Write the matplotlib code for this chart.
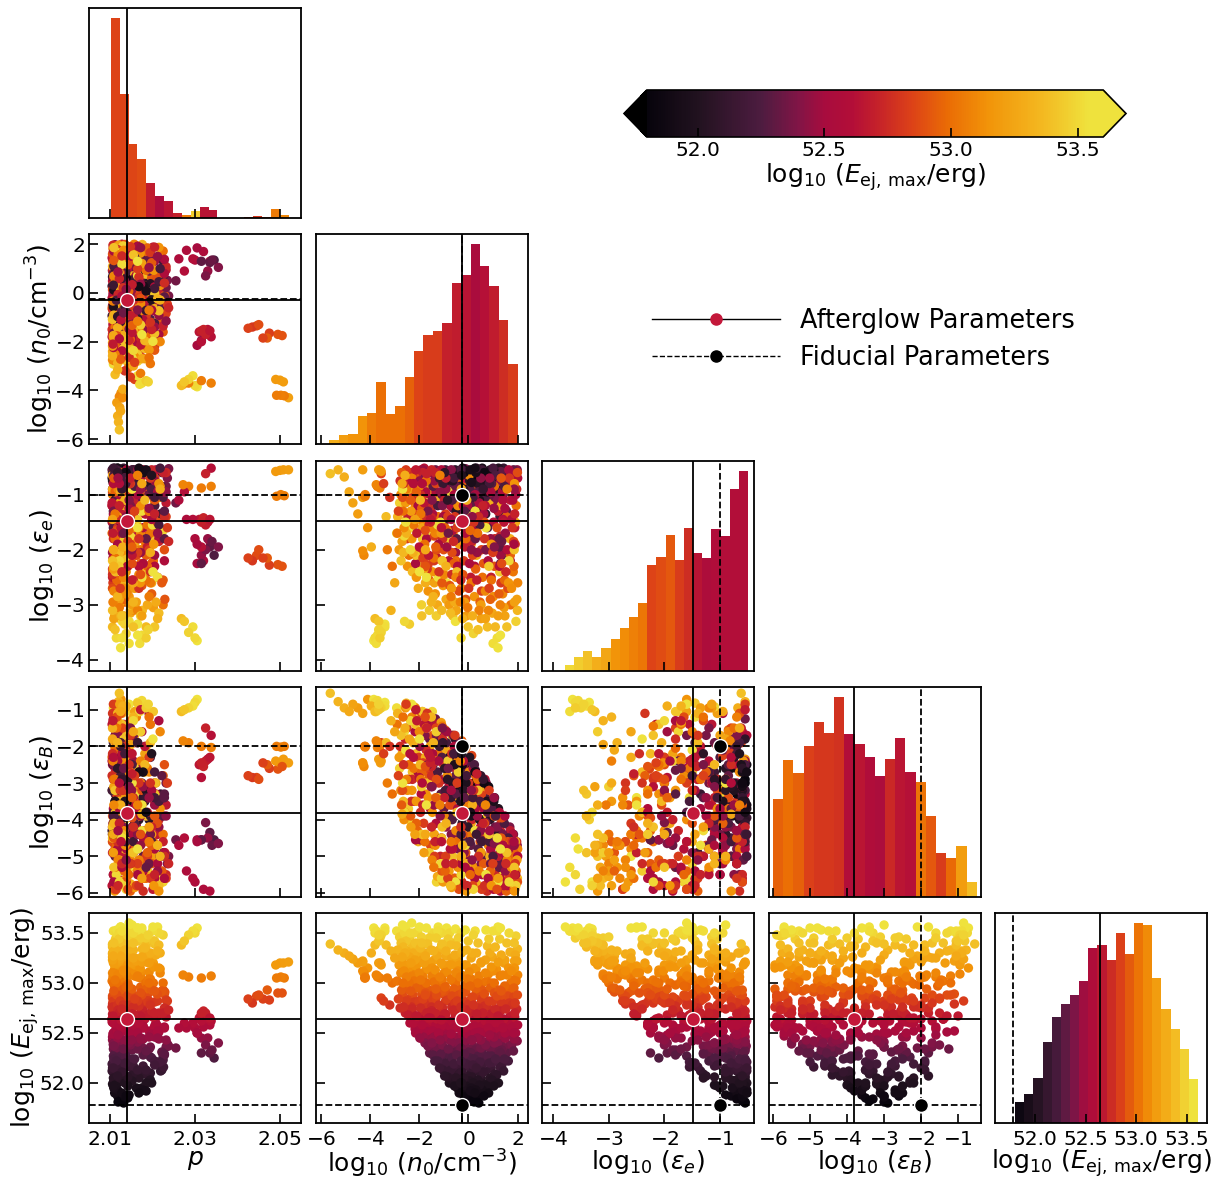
import numpy as np
import matplotlib
matplotlib.use("Agg")
import matplotlib.pyplot as plt
from matplotlib.colors import LinearSegmentedColormap, Normalize
from matplotlib.lines import Line2D
from matplotlib.cm import ScalarMappable

# samples, one line per n0 band
n0_samples = [
    1.98, 1.92, 2.0, 1.88, 1.96, 1.9, 1.99, 1.85, 1.94, 2.0, 1.87, 1.97, 1.91, 1.99, 1.86, 1.93,
    1.62, 1.55, 1.68, 1.5, 1.64, 1.58, 1.7, 1.52, 1.66, 1.6, 1.54, 1.72, 1.57, 1.63, 1.48, 1.69, 1.56, 1.65,
    1.22, 1.15, 1.28, 1.1, 1.25, 1.18, 1.3, 1.12, 1.26, 1.2, 1.08, 1.32, 1.16, 1.24, 1.05, 1.29, 1.14, 1.21, 1.33, 1.09, 1.27, 1.17,
    .82, .75, .88, .7, .85, .78, .9, .72, .86, .8, .68, .92, .76, .84, .65, .89, .74, .81, .93, .69, .87, .77, .83, .71,
    .42, .35, .48, .3, .45, .38, .5, .32, .46, .4, .28, .52, .36, .44, .25, .49, .34, .41, .53, .29, .47, .37, .43, .31, .51, .33, .39, .27,
    .02, -.05, .08, -.1, .05, -.02, .1, -.08, .06, 0, -.12, .12, -.04, .04, -.15, .09, -.06, .01, .13, -.11, .07, -.03, .03, -.09, .11, -.07, -.01, -.13,
    -.38, -.45, -.32, -.5, -.35, -.42, -.3, -.48, -.34, -.4, -.52, -.28, -.44, -.36, -.55, -.31, -.46, -.39, -.27, -.51, -.33, -.43, -.37, -.49, -.29, -.47, -.41, -.53,
    -.78, -.85, -.72, -.9, -.75, -.82, -.7, -.88, -.74, -.8, -.92, -.68, -.84, -.76, -.95, -.71, -.86, -.79, -.67, -.91, -.73, -.83, -.77, -.89,
    -1.18, -1.25, -1.12, -1.3, -1.15, -1.22, -1.1, -1.28, -1.14, -1.2, -1.32, -1.08, -1.24, -1.16, -1.35, -1.11, -1.26, -1.19, -1.07, -1.31, -1.13, -1.23,
    -1.58, -1.65, -1.52, -1.7, -1.55, -1.62, -1.5, -1.68, -1.54, -1.6, -1.72, -1.48, -1.64, -1.56, -1.75, -1.51, -1.66, -1.59, -1.47, -1.71,
    -1.98, -2.05, -1.92, -2.1, -1.95, -2.02, -1.9, -2.08, -1.94, -2.0, -2.12, -1.88, -2.04, -1.96, -2.15, -1.91, -2.06, -1.99,
    -2.38, -2.45, -2.32, -2.5, -2.35, -2.42, -2.3, -2.48, -2.34, -2.4, -2.52, -2.28, -2.44, -2.36, -2.55, -2.31,
    -2.78, -2.85, -2.72, -2.9, -2.75, -2.82, -2.7, -2.88, -2.74, -2.8, -2.92, -2.68,
    -5.62, -5.3, -5.05, -4.85, -4.7, -4.5, -4.3, -4.1, -3.95, -4.3, -4.25, -3.7, -3.65, -3.6, -3.75, -3.4, -3.55, -3.45, -3.2, -3.3, -3.1, -3.0, -3.15, -3.35, -2.6, -2.4, -1.9, 1.2, -0.3, 1.0, 1.3, 0.2,
    -1.45, -1.4, -1.35, -1.3, -1.85, -1.85, -1.65, -1.7, -1.75,
    -3.55, -3.58, -3.65, -4.2, -4.2, -4.22, -4.3,
    -1.6, -1.55, -1.5, -1.6, -1.5, -1.55, -2.0, -2.15, -1.95, -1.8, -1.7,
    1.75, 1.4, 1.35, 1.85, 1.3, .7, 1.25, 1.35, 1.05, 1.35, .9, 1.7, 1.3,
    -3.75, -3.7, -3.6, -3.7,
    -3.65, -3.55, -3.4, -3.8, -3.85, -3.8,
    -1.25, -1.1, -1.3, 1.4, .9, .5,
    # second pass, between the bands above
    1.83, 1.76, 1.86, 1.72, 1.8, 1.74, 1.88, 1.78, 1.84, 1.7, 1.82, 1.75, 1.87, 1.79,
    1.43, 1.36, 1.46, 1.32, 1.4, 1.34, 1.48, 1.38, 1.44, 1.3, 1.42, 1.35, 1.47, 1.39, 1.45, 1.33,
    1.03, .96, 1.06, .92, 1.0, .94, 1.08, .98, 1.04, .9, 1.02, .95, 1.07, .99, 1.05, .93, 1.01, .97,
    .63, .56, .66, .52, .6, .54, .68, .58, .64, .5, .62, .55, .67, .59, .65, .53, .61, .57, .69, .51,
    .23, .16, .26, .12, .2, .14, .28, .18, .24, .1, .22, .15, .27, .19, .25, .13, .21, .17, .29, .11, .24, .16,
    -.17, -.24, -.14, -.28, -.2, -.26, -.12, -.22, -.16, -.3, -.18, -.25, -.13, -.21, -.15, -.27, -.19, -.23, -.11, -.29, -.16, -.24,
    -.57, -.64, -.54, -.68, -.6, -.66, -.52, -.62, -.56, -.7, -.58, -.65, -.53, -.61, -.55, -.67, -.59, -.63, -.51, -.69, -.56, -.64,
    -.97, -1.04, -.94, -1.08, -1.0, -1.06, -.92, -1.02, -.96, -1.1, -.98, -1.05, -.93, -1.01, -.95, -1.07, -.99, -1.03, -.91, -1.09,
    -1.37, -1.44, -1.34, -1.48, -1.4, -1.46, -1.32, -1.42, -1.36, -1.5, -1.38, -1.45, -1.33, -1.41, -1.35, -1.47, -1.39, -1.43,
    -1.77, -1.84, -1.74, -1.88, -1.8, -1.86, -1.72, -1.82, -1.76, -1.9, -1.78, -1.85, -1.73, -1.81, -1.75, -1.87,
    -2.17, -2.24, -2.14, -2.28, -2.2, -2.26, -2.12, -2.22, -2.16, -2.3, -2.18, -2.25, -2.13, -2.21,
    -2.57, -2.64, -2.54, -2.68, -2.6, -2.66, -2.52, -2.62, -2.56, -2.7, -2.58, -2.65, -2.53, -2.61,
]
E_samples = [
    52.42, 52.5, 52.58, 52.66, 52.74, 52.8, 52.88, 52.95, 53.02, 53.08, 53.15, 53.22, 53.28, 53.34, 53.4, 53.47,
    52.22, 52.3, 52.38, 52.45, 52.52, 52.6, 52.67, 52.74, 52.8, 52.87, 52.94, 53.0, 53.08, 53.15, 53.23, 53.31, 53.4, 53.5,
    52.0, 52.08, 52.16, 52.24, 52.32, 52.4, 52.47, 52.54, 52.6, 52.67, 52.74, 52.8, 52.87, 52.93, 53.0, 53.07, 53.14, 53.21, 53.28, 53.36, 53.44, 53.52,
    51.9, 51.97, 52.05, 52.12, 52.2, 52.27, 52.34, 52.41, 52.48, 52.55, 52.62, 52.69, 52.76, 52.82, 52.89, 52.95, 53.02, 53.09, 53.16, 53.23, 53.3, 53.37, 53.44, 53.53,
    51.8, 51.84, 51.88, 51.93, 51.98, 52.03, 52.09, 52.15, 52.21, 52.27, 52.33, 52.39, 52.45, 52.51, 52.57, 52.63, 52.69, 52.75, 52.82, 52.88, 52.94, 53.0, 53.07, 53.14, 53.21, 53.3, 53.4, 53.52,
    51.82, 51.87, 51.92, 51.97, 52.02, 52.07, 52.13, 52.19, 52.25, 52.31, 52.37, 52.43, 52.49, 52.55, 52.61, 52.67, 52.73, 52.79, 52.85, 52.91, 52.97, 53.04, 53.11, 53.18, 53.25, 53.33, 53.42, 53.53,
    51.9, 51.95, 52.0, 52.05, 52.1, 52.16, 52.22, 52.28, 52.34, 52.4, 52.46, 52.52, 52.58, 52.64, 52.7, 52.76, 52.82, 52.88, 52.94, 53.0, 53.06, 53.12, 53.18, 53.24, 53.3, 53.37, 53.45, 53.54,
    52.0, 52.06, 52.13, 52.2, 52.27, 52.34, 52.41, 52.48, 52.55, 52.62, 52.69, 52.76, 52.83, 52.9, 52.97, 53.04, 53.11, 53.18, 53.25, 53.32, 53.38, 53.44, 53.5, 53.55,
    52.15, 52.22, 52.29, 52.36, 52.43, 52.5, 52.57, 52.64, 52.71, 52.78, 52.85, 52.92, 52.99, 53.06, 53.13, 53.2, 53.27, 53.33, 53.39, 53.45, 53.5, 53.56,
    52.3, 52.37, 52.44, 52.51, 52.58, 52.65, 52.72, 52.79, 52.86, 52.93, 53.0, 53.07, 53.14, 53.21, 53.27, 53.33, 53.39, 53.45, 53.5, 53.55,
    52.45, 52.52, 52.6, 52.67, 52.75, 52.82, 52.89, 52.96, 53.03, 53.1, 53.17, 53.23, 53.29, 53.35, 53.4, 53.46, 53.52, 53.56,
    52.6, 52.68, 52.76, 52.84, 52.92, 53.0, 53.07, 53.14, 53.2, 53.26, 53.32, 53.38, 53.44, 53.5, 53.56, 53.6,
    52.75, 52.84, 52.93, 53.02, 53.1, 53.18, 53.26, 53.33, 53.4, 53.46, 53.52, 53.58,
    53.39, 53.33, 53.3, 53.27, 53.24, 53.2, 53.22, 53.15, 53.3, 53.12, 53.1, 53.5, 53.48, 53.45, 53.52, 53.55, 52.85, 52.82, 52.78, 53.05, 53.0, 53.25, 53.32, 53.38, 53.5, 53.45, 53.4, 53.56, 53.5, 53.52, 53.55, 53.48,
    52.84, 52.8, 52.87, 52.88, 52.84, 52.93, 52.83, 52.9, 52.9,
    53.18, 53.2, 53.2, 53.05, 53.06, 53.05, 53.21,
    52.65, 52.7, 52.72, 52.68, 52.62, 52.65, 52.62, 52.5, 52.45, 52.62, 52.7,
    52.55, 52.6, 52.55, 52.5, 52.3, 52.38, 52.3, 52.25, 52.4, 52.33, 52.45, 52.56, 52.58,
    53.08, 53.06, 53.05, 53.07,
    53.42, 53.48, 53.52, 53.5, 53.55, 53.38,
    53.52, 53.5, 53.48, 52.55, 52.6, 52.35,
    # second pass
    52.32, 52.38, 52.44, 52.5, 52.56, 52.62, 52.7, 52.78, 52.86, 52.94, 53.03, 53.12, 53.22, 53.02,
    52.12, 52.18, 52.24, 52.3, 52.36, 52.42, 52.5, 52.56, 52.64, 52.72, 52.8, 52.88, 52.97, 53.08, 53.2, 52.92,
    51.97, 52.03, 52.09, 52.15, 52.21, 52.27, 52.33, 52.39, 52.46, 52.52, 52.6, 52.66, 52.74, 52.82, 52.9, 53.0, 53.12, 53.26,
    51.87, 51.93, 51.99, 52.05, 52.11, 52.17, 52.23, 52.29, 52.36, 52.43, 52.5, 52.57, 52.64, 52.7, 52.77, 52.84, 52.92, 53.0, 53.1, 53.2,
    51.81, 51.85, 51.9, 51.95, 52.0, 52.06, 52.12, 52.18, 52.24, 52.3, 52.36, 52.43, 52.5, 52.56, 52.63, 52.7, 52.78, 52.86, 52.94, 53.04, 53.15, 53.3,
    51.86, 51.9, 51.95, 52.0, 52.05, 52.11, 52.17, 52.23, 52.29, 52.35, 52.42, 52.48, 52.55, 52.61, 52.68, 52.75, 52.82, 52.9, 52.98, 53.08, 53.18, 53.32,
    51.97, 52.02, 52.07, 52.13, 52.19, 52.25, 52.31, 52.37, 52.43, 52.49, 52.55, 52.61, 52.67, 52.73, 52.8, 52.87, 52.94, 53.02, 53.1, 53.18, 53.28, 53.4,
    52.07, 52.13, 52.19, 52.26, 52.32, 52.38, 52.44, 52.5, 52.56, 52.63, 52.69, 52.75, 52.82, 52.89, 52.96, 53.03, 53.1, 53.18, 53.27, 53.38,
    52.22, 52.28, 52.34, 52.4, 52.46, 52.52, 52.58, 52.64, 52.7, 52.76, 52.82, 52.88, 52.94, 53.01, 53.08, 53.15, 53.23, 53.32,
    52.4, 52.46, 52.52, 52.58, 52.64, 52.7, 52.76, 52.82, 52.88, 52.94, 53.0, 53.06, 53.13, 53.2, 53.3, 53.42,
    52.54, 52.6, 52.67, 52.74, 52.81, 52.88, 52.95, 53.02, 53.09, 53.16, 53.23, 53.3, 53.38, 53.5,
    52.7, 52.76, 52.82, 52.88, 52.94, 53.0, 53.06, 53.12, 53.18, 53.24, 53.3, 53.36, 53.42, 53.5,
]
ee_samples = [
    -.55, -1.0, -.7, -1.6, -.9, -1.9, -.6, -2.3, -1.2, -2.6, -.8, -2.9, -1.5, -3.1, -2.0, -3.3,
    -.6, -1.3, -.8, -1.7, -.55, -2.0, -1.1, -2.4, -.7, -2.7, -1.4, -3.0, -.9, -2.6, -3.2, -1.8, -3.4, -2.2,
    -.52, -.9, -1.4, -.65, -1.8, -1.1, -2.1, -.75, -2.3, -1.3, -.6, -2.6, -1.6, -2.8, -.85, -3.0, -2.0, -3.2, -1.2, -3.4, -2.4, -3.6,
    -.6, -.95, -.55, -1.35, -.8, -1.6, -1.0, -2.0, -.7, -2.2, -1.2, -2.5, -.65, -2.7, -1.5, -2.9, -.9, -3.1, -1.9, -3.25, -1.1, -3.4, -2.3, -1.6,
    -.55, -.7, -.9, -.6, -1.1, -.8, -1.3, -.52, -1.55, -.95, -1.8, -.7, -2.05, -1.15, -2.3, -.6, -2.55, -1.4, -2.75, -.85, -2.95, -1.7, -3.1, -1.05, -3.25, -2.1, -3.45, -1.3,
    -.6, -.8, -.55, -1.05, -.75, -1.25, -.6, -1.5, -.9, -1.75, -.53, -2.0, -1.2, -2.25, -.7, -2.5, -1.45, -2.7, -.95, -2.9, -1.65, -3.05, -.65, -3.2, -1.9, -1.1, -3.4, -1.35,
    -.7, -1.0, -.6, -1.3, -.85, -1.55, -.55, -1.8, -1.1, -.7, -2.05, -.95, -2.3, -1.35, -.6, -2.55, -1.6, -2.75, -.8, -2.2, -2.95, -1.2, -1.9, -3.1, -.9, -2.4, -1.5, -3.3,
    -.75, -1.1, -.6, -1.45, -.9, -1.7, -.55, -1.95, -1.2, -2.2, -.7, -2.45, -1.4, -2.65, -.85, -2.85, -1.65, -3.0, -1.0, -2.3, -3.15, -1.85, -.95, -2.6,
    -.7, -1.2, -.6, -1.6, -.95, -1.9, -.55, -2.15, -1.1, -2.4, -.8, -2.6, -1.4, -.65, -2.8, -1.7, -3.0, -1.05, -2.2, -3.2, -1.5, -2.5,
    -.8, -1.3, -.6, -1.8, -1.0, -2.1, -.55, -2.35, -1.25, -2.55, -.75, -1.6, -2.75, -.9, -2.0, -2.95, -1.15, -3.1, -1.75, -2.5,
    -.75, -1.2, -.55, -1.7, -1.0, -2.0, -.65, -2.25, -1.35, -.85, -2.5, -1.6, -2.7, -1.1, -2.1, -3.0, -1.45, -2.4,
    -.8, -1.4, -.6, -1.8, -1.1, -2.1, -.7, -2.3, -1.3, -.9, -1.7, -2.4, -1.05, -2.0, -1.5, -1.6,
    -.75, -1.3, -.6, -1.7, -1.0, -2.0, -.8, -1.4, -2.2, -1.15, -1.7, -.9,
    -.62, -.55, -.68, -.95, -1.15, -1.35, -1.05, -1.6, -1.95, -2.02, -2.1, -3.55, -3.45, -3.6, -3.7, -3.35, -.62, -.8, -1.05, -2.0, -2.3, -2.6, -3.1, -1.4, -3.3, -3.35, -3.2, -3.78, -3.6, -3.7, -3.55, -3.52,
    -2.15, -2.2, -2.1, -2.0, -2.15, -2.15, -2.28, -2.27, -2.3,
    -.58, -.56, -.55, -1.03, -1.0, -1.02, -.55,
    -1.45, -1.5, -1.42, -1.55, -1.5, -1.45, -1.95, -2.25, -2.1, -.52, -.62,
    -1.45, -1.45, -1.8, -1.9, -2.25, -2.0, -1.95, -2.1, -1.95, -1.85, -1.8, -2.2, -1.85,
    -.82, -.85, -.88, -.85,
    -3.3, -3.5, -3.4, -3.6, -3.65, -3.25,
    -1.55, -1.6, -1.65, -1.1, -.95, -1.15,
    # second pass
    -.55, -.7, -.9, -.6, -1.1, -.8, -1.35, -1.6, -1.85, -2.1, -2.4, -2.7, -2.95, -.65,
    -.52, -.65, -.85, -.58, -1.0, -.75, -1.25, -.95, -1.5, -1.75, -2.0, -2.25, -2.55, -2.8, -3.05, -.7,
    -.55, -.7, -.6, -.9, -.52, -.8, -1.05, -.65, -1.25, -.95, -1.5, -1.15, -1.8, -2.05, -2.3, -2.55, -2.85, -3.15,
    -.6, -.52, -.75, -.65, -.9, -.55, -1.05, -.8, -1.2, -.7, -1.35, -1.0, -1.55, -1.2, -1.8, -2.0, -2.25, -2.5, -2.75, -3.0,
    -.55, -.65, -.52, -.78, -.6, -.9, -.7, -1.05, -.55, -1.2, -.85, -1.4, -1.0, -1.6, -1.2, -1.85, -1.5, -2.1, -2.35, -2.6, -2.85, -3.2,
    -.6, -.52, -.75, -.65, -.9, -.55, -1.1, -.8, -1.3, -.95, -1.5, -.7, -1.7, -1.2, -1.95, -1.45, -2.2, -2.45, -1.8, -2.7, -2.95, -3.25,
    -.62, -.75, -.55, -.9, -.7, -1.1, -.85, -1.25, -.6, -1.45, -1.0, -1.65, -1.2, -1.85, -1.4, -2.05, -2.25, -1.7, -2.5, -2.7, -2.95, -3.2,
    -.6, -.8, -.55, -1.0, -.7, -1.2, -.9, -1.4, -.65, -1.6, -1.1, -1.8, -1.35, -2.0, -1.6, -2.2, -2.45, -2.65, -2.9, -3.1,
    -.65, -.85, -.55, -1.1, -.75, -1.35, -.95, -1.55, -.6, -1.2, -1.75, -1.45, -1.95, -2.15, -1.7, -2.4, -2.6, -2.85,
    -.7, -.55, -.95, -.8, -1.15, -.6, -1.4, -1.0, -1.65, -1.25, -1.9, -1.5, -2.1, -2.35, -2.6, -1.8,
    -.6, -.8, -.55, -1.05, -.7, -1.3, -.95, -1.55, -1.2, -1.8, -1.45, -2.05, -2.25, -1.1,
    -.6, -.8, -.55, -1.05, -.7, -1.3, -.9, -1.6, -1.15, -1.85, -.65, -2.05, -1.45, -1.75,
]
eB_samples = [
    -4.7, -5.5, -5.0, -5.9, -4.6, -5.2, -5.7, -4.9, -5.4, -4.8, -5.95, -5.1, -4.6, -5.6, -5.3, -5.8,
    -4.5, -5.0, -4.2, -5.4, -4.8, -5.8, -4.3, -5.2, -5.6, -4.6, -5.95, -4.4, -5.1, -5.5, -4.7, -5.3, -4.9, -5.7,
    -3.7, -4.4, -4.9, -3.9, -5.3, -4.2, -5.7, -4.6, -3.8, -5.0, -5.5, -4.1, -5.9, -4.7, -3.7, -5.2, -4.3, -5.6, -4.8, -3.9, -5.4, -4.5,
    -3.1, -3.5, -4.0, -3.3, -4.6, -3.8, -5.2, -3.0, -4.3, -5.6, -3.6, -4.9, -5.95, -3.2, -4.1, -5.4, -3.4, -4.7, -5.8, -3.1, -5.0, -3.9, -4.4, -5.5,
    -2.9, -3.3, -3.6, -2.7, -4.0, -3.1, -2.8, -4.4, -3.5, -4.8, -2.65, -5.2, -3.9, -3.0, -5.6, -4.2, -2.75, -5.0, -5.9, -3.4, -4.6, -2.9, -5.4, -3.7, -4.9, -5.75, -3.2, -4.3,
    -3.4, -2.6, -3.8, -3.0, -2.3, -4.2, -3.5, -2.8, -4.6, -2.4, -5.0, -3.2, -3.9, -5.4, -2.5, -4.4, -5.8, -3.0, -2.25, -4.9, -5.5, -3.6, -2.7, -5.95, -4.1, -5.2, -3.3, -4.7,
    -2.6, -3.1, -3.5, -2.2, -3.9, -2.8, -4.4, -3.3, -1.9, -4.8, -2.5, -5.2, -3.7, -2.0, -5.6, -4.2, -3.0, -5.9, -1.85, -4.6, -2.4, -5.3, -3.4, -1.95, -5.0, -3.8, -2.7, -5.7,
    -2.3, -2.9, -3.4, -1.9, -3.9, -2.6, -4.4, -1.6, -4.8, -3.1, -5.2, -2.2, -5.6, -3.6, -1.55, -4.6, -2.8, -5.4, -1.7, -4.1, -5.8, -2.4, -3.3, -5.0,
    -2.0, -2.7, -3.3, -1.7, -3.9, -2.4, -4.5, -1.4, -5.0, -3.0, -1.5, -5.4, -2.2, -3.6, -4.7, -1.35, -5.55, -2.9, -4.2, -1.6, -5.2, -3.4,
    -1.8, -2.5, -3.1, -1.3, -3.7, -2.2, -4.2, -1.1, -4.7, -2.8, -1.5, -5.1, -3.4, -2.0, -4.4, -1.2, -3.0, -4.9, -1.05, -3.6,
    -2.0, -2.7, -3.3, -1.3, -3.8, -2.3, -1.1, -4.3, -2.9, -1.6, -3.5, -1.05, -4.6, -2.5, -1.4, -3.1, -1.2, -1.8,
    -2.2, -2.9, -3.5, -1.5, -3.9, -2.5, -1.2, -3.2, -4.2, -1.8, -.9, -2.7, -3.7, -1.3, -2.1, -.85,
    -2.0, -2.8, -3.6, -1.4, -3.2, -2.3, -3.85, -1.1, -1.7, -2.6, -.95, -3.0,
    -.55, -.78, -.95, -1.05, -.85, -.95, -1.1, -.72, -.9, -2.45, -2.55, -.75, -.85, -.95, -1.05, -.8, -1.9, -2.2, -2.0, -3.0, -3.3, -1.6, -1.3, -1.9, -3.8, -4.0, -4.4, -5.7, -5.5, -5.3, -4.8, -5.9,
    -2.8, -2.85, -2.85, -2.9, -2.45, -2.5, -2.6, -2.62, -2.55,
    -2.4, -2.45, -2.35, -2.0, -2.02, -2.0, -2.45,
    -2.5, -2.45, -2.55, -2.4, -2.35, -2.3, -2.85, -4.55, -4.55, -1.7, -1.5,
    -5.4, -5.6, -5.7, -4.6, -4.55, -4.08, -4.35, -4.55, -4.65, -4.7, -4.5, -5.9, -5.95,
    -1.85, -1.9, -2.0, -2.03,
    -1.0, -.95, -.9, -.8, -.72, -1.05,
    -3.4, -5.6, -5.7, -4.7, -4.5, -4.55,
    # second pass
    -4.4, -5.2, -4.7, -5.7, -4.4, -5.0, -5.5, -4.6, -5.9, -5.1, -4.5, -5.3, -5.8, -4.8,
    -3.95, -4.6, -4.1, -5.1, -4.4, -5.5, -3.9, -4.9, -5.8, -4.3, -5.2, -3.95, -4.7, -5.6, -5.0, -4.5,
    -3.5, -3.9, -3.4, -4.4, -5.0, -3.7, -4.2, -5.5, -3.4, -4.8, -5.9, -3.6, -4.5, -5.2, -3.9, -5.6, -4.7, -5.3,
    -3.0, -3.6, -3.2, -4.0, -2.9, -4.6, -3.4, -5.0, -3.0, -4.3, -3.7, -5.5, -2.9, -4.1, -5.8, -3.3, -5.2, -4.5, -3.6, -4.9,
    -3.0, -3.5, -2.7, -3.9, -3.2, -2.6, -4.3, -3.4, -2.5, -4.7, -3.0, -5.1, -3.7, -2.6, -5.5, -4.0, -3.2, -5.8, -2.8, -4.4, -5.3, -3.6,
    -3.0, -2.5, -3.6, -2.2, -3.2, -4.1, -2.7, -4.5, -3.4, -2.1, -4.9, -3.0, -5.3, -2.4, -3.8, -5.7, -2.9, -4.4, -2.05, -5.1, -3.5, -4.7,
    -2.5, -3.0, -1.8, -3.5, -2.2, -4.0, -2.8, -1.7, -4.4, -3.2, -2.0, -4.8, -2.6, -5.2, -1.7, -3.6, -5.6, -2.3, -4.3, -5.85, -3.0, -5.0,
    -2.6, -1.9, -3.2, -2.3, -3.7, -1.5, -4.2, -2.9, -1.6, -4.6, -3.4, -1.8, -5.0, -2.5, -5.4, -1.45, -3.9, -5.7, -2.1, -4.5,
    -1.9, -2.5, -1.25, -3.1, -3.6, -2.2, -4.1, -1.4, -4.6, -2.8, -5.0, -1.7, -3.4, -5.3, -2.4, -3.8, -4.4, -1.9,
    -1.7, -2.4, -1.1, -3.0, -1.4, -3.6, -2.1, -4.1, -1.2, -2.7, -4.6, -1.6, -3.3, -4.9, -2.3, -1.05,
    -1.6, -2.3, -1.0, -2.9, -3.5, -1.3, -4.1, -2.6, -.95, -3.2, -4.4, -1.9, -2.2, -.92,
    -1.8, -2.5, -.85, -3.2, -3.8, -1.2, -2.9, -4.0, -.95, -2.2, -1.5, -3.5, -.82, -1.6,
]
p_samples = [
    2.0112, 2.0165, 2.0128, 2.0201, 2.0107, 2.0148, 2.0135, 2.0188, 2.0118, 2.0157, 2.0215, 2.0122, 2.0142, 2.0176, 2.0109, 2.0131,
    2.0125, 2.0178, 2.0108, 2.0212, 2.0139, 2.0115, 2.0162, 2.0128, 2.0195, 2.0106, 2.0148, 2.0225, 2.0119, 2.0171, 2.0133, 2.0111, 2.0155, 2.0122,
    2.0118, 2.0152, 2.0226, 2.0109, 2.0185, 2.0131, 2.0205, 2.0114, 2.0168, 2.0125, 2.0232, 2.0107, 2.0142, 2.0198, 2.0121, 2.0158, 2.0111, 2.0175, 2.0135, 2.0106, 2.0189, 2.0128,
    2.0128, 2.0112, 2.0168, 2.0219, 2.0137, 2.0108, 2.0192, 2.0145, 2.0119, 2.0228, 2.0161, 2.0106, 2.0178, 2.0124, 2.0211, 2.0134, 2.0115, 2.0154, 2.0203, 2.0109, 2.0142, 2.0185, 2.0121, 2.0165,
    2.0132, 2.0122, 2.0145, 2.0178, 2.0112, 2.0195, 2.0158, 2.0108, 2.0215, 2.0138, 2.0118, 2.0235, 2.0172, 2.0126, 2.0205, 2.0106, 2.0152, 2.0228, 2.0115, 2.0188, 2.0135, 2.0109, 2.0165, 2.0218, 2.0124, 2.0148, 2.0112, 2.0175,
    2.0128, 2.0118, 2.0185, 2.0142, 2.0109, 2.0162, 2.0222, 2.0125, 2.0198, 2.0114, 2.0238, 2.0151, 2.0107, 2.0178, 2.0132, 2.0212, 2.0119, 2.0168, 2.0106, 2.0229, 2.0144, 2.0122, 2.0192, 2.0111, 2.0158, 2.0135, 2.0205, 2.0116,
    2.0122, 2.0175, 2.0135, 2.0108, 2.0195, 2.0148, 2.0115, 2.0228, 2.0165, 2.0127, 2.0106, 2.0212, 2.0141, 2.0182, 2.0118, 2.0155, 2.0235, 2.0111, 2.0132, 2.0202, 2.0107, 2.0172, 2.0124, 2.0148, 2.0218, 2.0113, 2.0162, 2.0129,
    2.0115, 2.0142, 2.0185, 2.0108, 2.0225, 2.0132, 2.0165, 2.0119, 2.0205, 2.0126, 2.0148, 2.0106, 2.0232, 2.0175, 2.0112, 2.0192, 2.0137, 2.0122, 2.0158, 2.0109, 2.0215, 2.0129, 2.0168, 2.0145,
    2.0125, 2.0205, 2.0112, 2.0155, 2.0232, 2.0118, 2.0178, 2.0107, 2.0142, 2.0195, 2.0129, 2.0222, 2.0109, 2.0165, 2.0136, 2.0115, 2.0188, 2.0148, 2.0106, 2.0172, 2.0122, 2.0212,
    2.0132, 2.0109, 2.0178, 2.0215, 2.0121, 2.0152, 2.0198, 2.0106, 2.0141, 2.0225, 2.0115, 2.0168, 2.0128, 2.0185, 2.0108, 2.0155, 2.0205, 2.0119, 2.0138, 2.0175,
    2.0118, 2.0165, 2.0208, 2.0107, 2.0145, 2.0192, 2.0125, 2.0172, 2.0112, 2.0218, 2.0135, 2.0158, 2.0106, 2.0182, 2.0128, 2.0148, 2.0115, 2.0201,
    2.0128, 2.0108, 2.0175, 2.0148, 2.0205, 2.0116, 2.0162, 2.0122, 2.0192, 2.0106, 2.0138, 2.0182, 2.0113, 2.0155, 2.0125, 2.0145,
    2.0112, 2.0158, 2.0125, 2.0195, 2.0106, 2.0142, 2.0175, 2.0118, 2.0132, 2.0165, 2.0108, 2.0152,
    2.0122, 2.012, 2.0118, 2.0125, 2.0123, 2.0116, 2.0128, 2.0126, 2.013, 2.013, 2.0122, 2.0175, 2.019, 2.0185, 2.017, 2.0165, 2.0158, 2.0148, 2.0135, 2.0172, 2.0142, 2.0155, 2.0118, 2.0112, 2.0145, 2.0135, 2.0128, 2.0125, 2.0115, 2.0145, 2.0165, 2.0138,
    2.0425, 2.0435, 2.0445, 2.045, 2.046, 2.047, 2.0475, 2.0495, 2.0505,
    2.049, 2.05, 2.0508, 2.0492, 2.0502, 2.051, 2.052,
    2.031, 2.0315, 2.032, 2.0325, 2.033, 2.0335, 2.0315, 2.0305, 2.0315, 2.0338, 2.0325,
    2.028, 2.0295, 2.03, 2.0305, 2.0315, 2.0325, 2.0335, 2.0345, 2.0355, 2.034, 2.033, 2.032, 2.0335,
    2.0272, 2.0285, 2.0315, 2.0338,
    2.0275, 2.0285, 2.0295, 2.03, 2.0305, 2.0268,
    2.02, 2.0215, 2.0225, 2.0262, 2.0275, 2.0255,
    # second pass
    2.0115, 2.0138, 2.0172, 2.0109, 2.0155, 2.0125, 2.0205, 2.0118, 2.0142, 2.0185, 2.0107, 2.0132, 2.0162, 2.0112,
    2.0132, 2.0108, 2.0158, 2.0122, 2.0195, 2.0113, 2.0145, 2.0228, 2.0105, 2.0178, 2.0126, 2.0152, 2.0116, 2.0138, 2.0202, 2.0109,
    2.0112, 2.0135, 2.0178, 2.0106, 2.0218, 2.0125, 2.0152, 2.0108, 2.0192, 2.0118, 2.0142, 2.0232, 2.0128, 2.0165, 2.0111, 2.0185, 2.0122, 2.0148,
    2.0138, 2.0118, 2.0106, 2.0192, 2.0128, 2.0155, 2.0225, 2.0112, 2.0175, 2.0134, 2.0108, 2.0212, 2.0145, 2.0122, 2.0168, 2.0116, 2.0198, 2.0131, 2.0109, 2.0152,
    2.0119, 2.0142, 2.0168, 2.0109, 2.0185, 2.0128, 2.0105, 2.0205, 2.0152, 2.0115, 2.0232, 2.0138, 2.0122, 2.0178, 2.0108, 2.0215, 2.0131, 2.0162, 2.0112, 2.0195, 2.0145, 2.0125,
    2.0135, 2.0111, 2.0162, 2.0198, 2.0122, 2.0108, 2.0178, 2.0145, 2.0228, 2.0116, 2.0155, 2.0205, 2.0128, 2.0105, 2.0188, 2.0138, 2.0118, 2.0172, 2.0112, 2.0148, 2.0125, 2.0212,
    2.0108, 2.0152, 2.0122, 2.0182, 2.0135, 2.0115, 2.0222, 2.0142, 2.0106, 2.0198, 2.0128, 2.0165, 2.0112, 2.0238, 2.0148, 2.0118, 2.0178, 2.0105, 2.0132, 2.0158, 2.0208, 2.0125,
    2.0118, 2.0165, 2.0105, 2.0195, 2.0132, 2.0148, 2.0215, 2.0112, 2.0175, 2.0126, 2.0155, 2.0108, 2.0185, 2.0228, 2.0138, 2.0116, 2.0168, 2.0122, 2.0145, 2.0106,
    2.0125, 2.0178, 2.0108, 2.0145, 2.0205, 2.0115, 2.0162, 2.0132, 2.0225, 2.0105, 2.0188, 2.0122, 2.0152, 2.0112, 2.0172, 2.0138, 2.0198, 2.0118,
    2.0112, 2.0155, 2.0192, 2.0122, 2.0105, 2.0172, 2.0138, 2.0212, 2.0116, 2.0148, 2.0185, 2.0128, 2.0162, 2.0108, 2.0132, 2.0202,
    2.0135, 2.0108, 2.0172, 2.012, 2.0205, 2.0148, 2.0112, 2.0188, 2.0128, 2.0158, 2.0106, 2.0195, 2.0142, 2.0118,
    2.0118, 2.0145, 2.0108, 2.0175, 2.0128, 2.0192, 2.0112, 2.0158, 2.0135, 2.0182, 2.0106, 2.0122, 2.0165, 2.0148,
]

# histogram heights and the mean energy colouring each bin
p_hist = [602, 374, 224, 179, 104, 65, 50, 14, 10, 20, 32, 24, 0, 0, 0, 4, 7, 4, 26, 10]
p_hist_E = [52.85, 52.85, 52.86, 52.88, 52.68, 52.54, 52.65, 52.7, 53.05, 53.45, 52.64, 52.64, 52.6, 52.6, 52.6, 52.8, 52.8, 52.85, 53.05, 53.1]
n0_hist = [11, 26, 29, 83, 92, 188, 89, 113, 203, 281, 329, 341, 365, 485, 509, 602, 536, 476, 374, 242]
n0_hist_E = [53.3, 53.2, 53.15, 53.15, 53.05, 53.0, 53.0, 53.0, 52.95, 52.85, 52.82, 52.82, 52.7, 52.68, 52.64, 52.52, 52.62, 52.68, 52.76, 52.82]
ee_hist = [19, 43, 61, 43, 70, 97, 130, 163, 205, 319, 343, 409, 334, 430, 355, 340, 427, 406, 547, 601]
ee_hist_E = [53.5, 53.45, 53.4, 53.3, 53.25, 53.15, 53.12, 53.07, 53.03, 52.85, 52.88, 52.92, 52.82, 52.76, 52.64, 52.55, 52.58, 52.6, 52.6, 52.6]
eB_hist = [295, 412, 373, 454, 526, 493, 601, 490, 460, 421, 364, 415, 478, 376, 346, 244, 133, 118, 154, 46]
eB_hist_E = [52.95, 53.0, 52.95, 52.84, 52.8, 52.8, 52.78, 52.6, 52.65, 52.58, 52.54, 52.74, 52.65, 52.62, 53.02, 52.92, 52.82, 52.98, 53.2, 53.38]
E_hist = [64, 88, 136, 244, 319, 358, 385, 427, 526, 535, 490, 571, 508, 601, 595, 436, 343, 283, 223, 133]
E_hist_E = [51.85, 51.94, 52.03, 52.12, 52.21, 52.3, 52.39, 52.48, 52.57, 52.66, 52.75, 52.84, 52.93, 53.02, 53.11, 53.2, 53.29, 53.38, 53.47, 53.56]

names = ["p", "n0", "ee", "eB", "E"]
samples = {"p": p_samples, "n0": n0_samples, "ee": ee_samples, "eB": eB_samples, "E": E_samples}
hists = {"p": (p_hist, p_hist_E, 2.0102, 2.0520), "n0": (n0_hist, n0_hist_E, -5.66, 2.0),
         "ee": (ee_hist, ee_hist_E, -3.79, -0.497), "eB": (eB_hist, eB_hist_E, -6.0, -0.495),
         "E": (E_hist, E_hist_E, 51.8, 53.61)}
afterglow = {"p": 2.0141, "n0": -0.27, "ee": -1.486, "eB": -3.82, "E": 52.64}
fiducial = {"p": None, "n0": -0.25, "ee": -1.0, "eB": -2.0, "E": 51.78}
limits = {"p": (2.00506, 2.05494), "n0": (-6.2, 2.42), "ee": (-4.2, -0.39), "eB": (-6.11, -0.38), "E": (51.6, 53.7)}
ticks = {"p": [2.01, 2.03, 2.05], "n0": [-6, -4, -2, 0, 2], "ee": [-4, -3, -2, -1],
         "eB": [-6, -5, -4, -3, -2, -1], "E": [52.0, 52.5, 53.0, 53.5]}
tick_fmt = {"p": "%.2f", "n0": "%d", "ee": "%d", "eB": "%d", "E": "%.1f"}
labels = {"p": r"$p$", "n0": r"$\log_{10}\,(n_0/\mathrm{cm}^{-3})$", "ee": r"$\log_{10}\,(\varepsilon_e)$",
          "eB": r"$\log_{10}\,(\varepsilon_B)$", "E": r"$\log_{10}\,(E_{\mathrm{ej,\,max}}/\mathrm{erg})$"}

W, H = 1222, 1180
cols = [89, 316, 542, 769, 995]
rows = [8, 234, 461, 687, 913]
AW, AH = 212, 210
RED = "#c4183a"
TICK_FS = 14.5
LABEL_FS = 18

cmap = LinearSegmentedColormap.from_list("ejecta", [
    (0.0, "#07040c"), (0.11, "#21121f"), (0.25, "#4d1c40"), (0.33, "#801546"), (0.39, "#a80c3e"),
    (0.45, "#b30e38"), (0.5, "#c31f2b"), (0.58, "#dc4118"), (0.66, "#ea6c05"), (0.75, "#f29409"),
    (0.87, "#f3b921"), (0.97, "#efe23d"), (1.0, "#efe23d")])
cmap.set_under("black")
cmap.set_over("#efe23d")
norm = Normalize(51.8, 53.6)


def add_axes(left, top, w, h):
    return fig.add_axes([left / W, 1 - (top + h) / H, w / W, h / H])


fig = plt.figure(figsize=(W / 100, H / 100), dpi=100)

n = len(E_samples)
order = (np.arange(n) * 137) % n  # mix the bands so no one of them sits on top

for i, yn in enumerate(names):
    for j, xn in enumerate(names[:i + 1]):
        ax = add_axes(cols[j], rows[i], AW, AH)
        if i == j:
            heights, colours, lo, hi = hists[xn]
            edges = np.linspace(lo, hi, len(heights) + 1)
            ax.bar(edges[:-1], heights, width=np.diff(edges), align="edge",
                   color=cmap(norm(colours)), linewidth=0)
            ax.set_ylim(0, max(heights) * 1.05)
            ax.set_yticks([])
            if fiducial[xn] is not None:
                ax.axvline(fiducial[xn], color="k", ls="--", lw=1.3)
            ax.axvline(afterglow[xn], color="k", lw=1.3)
        else:
            x = np.array(samples[xn])[order]
            y = np.array(samples[yn])[order]
            c = np.array(E_samples)[order]
            ax.scatter(x, y, c=c, cmap=cmap, norm=norm, s=46, linewidths=0)
            if fiducial[yn] is not None:
                ax.axhline(fiducial[yn], color="k", ls="--", lw=1.3)
            if fiducial[xn] is not None:
                ax.axvline(fiducial[xn], color="k", ls="--", lw=1.3)
            ax.axhline(afterglow[yn], color="k", lw=1.3)
            ax.axvline(afterglow[xn], color="k", lw=1.3)
            if fiducial[xn] is not None:
                ax.plot(fiducial[xn], fiducial[yn], "o", color="k", ms=10, mec="w", mew=1, zorder=5)
            ax.plot(afterglow[xn], afterglow[yn], "o", color=RED, ms=10, mec="w", mew=1, zorder=6)
            ax.set_ylim(*limits[yn])
            ax.set_yticks(ticks[yn])
            if j == 0:
                ax.set_yticklabels([tick_fmt[yn] % t if yn == "E" else "$%d$" % t for t in ticks[yn]])
                ax.set_ylabel(labels[yn], fontsize=LABEL_FS, labelpad=-1)
            else:
                ax.set_yticklabels([])
        ax.set_xlim(*limits[xn])
        ax.set_xticks(ticks[xn])
        if i == 4:
            ax.set_xticklabels([tick_fmt[xn] % t if xn in ("p", "E") else "$%d$" % t for t in ticks[xn]])
            ax.set_xlabel(labels[xn], fontsize=LABEL_FS, labelpad=-1)
        else:
            ax.set_xticklabels([])
        ax.tick_params(direction="in", length=6.5, width=1.2, labelsize=TICK_FS)
        ax.tick_params(axis="x", pad=5)
        ax.tick_params(axis="y", pad=3)
        for s in ax.spines.values():
            s.set_linewidth(1.3)

cax = add_axes(624, 90, 502, 47)
cb = fig.colorbar(ScalarMappable(norm=norm, cmap=cmap), cax=cax, orientation="horizontal", extend="both")
cb.set_ticks(ticks["E"])
cb.ax.set_xticklabels(["%.1f" % t for t in ticks["E"]])
cb.ax.tick_params(direction="in", length=6.5, width=1.2, labelsize=TICK_FS, pad=3)
cb.set_label(labels["E"], fontsize=LABEL_FS, labelpad=1)
cb.outline.set_linewidth(1.2)

handles = [
    Line2D([], [], color="k", lw=1, marker="o", ms=8, mfc=RED, mec=RED, label="Afterglow Parameters"),
    Line2D([], [], color="k", lw=1, ls="--", marker="o", ms=8, mfc="k", mec="k", label="Fiducial Parameters"),
]
fig.legend(handles=handles, loc="upper left", bbox_to_anchor=(642 / W, 1 - 298 / H), frameon=False,
           fontsize=18.4, handlelength=5.0, labelspacing=0.42, handletextpad=0.8, borderaxespad=0)

fig.savefig("out.png", dpi=100)
